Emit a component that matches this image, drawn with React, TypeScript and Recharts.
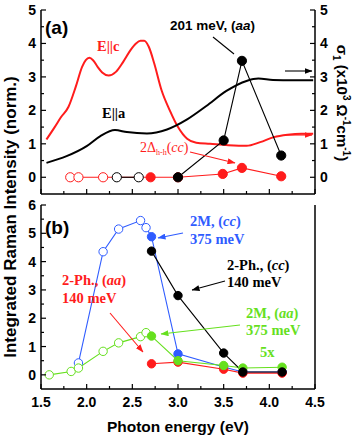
import { ComposedChart, Line, XAxis, YAxis } from "recharts";

const BLACK = "#000000";
const RED = "#ff1c1c";
const BLUE = "#2f5cff";
const GREEN = "#66e01e";
const SANS = "'Liberation Sans', Arial, sans-serif";
const SERIF = "'Liberation Serif', 'Times New Roman', serif";

const xTicks = [1.5, 1.75, 2, 2.25, 2.5, 2.75, 3, 3.25, 3.5, 3.75, 4, 4.25, 4.5];
const topYTicks = [0, 0.5, 1, 1.5, 2, 2.5, 3, 3.5, 4, 4.5, 5];
const bottomYTicks = [0, 0.5, 1, 1.5, 2, 2.5, 3, 3.5, 4, 4.5, 5, 5.5, 6];

// (a) optical conductivity, right axis (x10^3 1/(Ohm cm))
const sigmaCEnergy = [1.56, 1.65, 1.72, 1.8, 1.88, 1.95, 1.99, 2.03, 2.07, 2.12, 2.17, 2.24, 2.32, 2.4, 2.48, 2.54, 2.59, 2.63, 2.68, 2.74, 2.82, 2.91, 3.0, 3.1, 3.2, 3.35, 3.55, 3.75, 3.9, 4.05, 4.2, 4.35, 4.48];
const sigmaC = [1.13, 1.5, 1.8, 2.1, 2.7, 3.3, 3.5, 3.57, 3.5, 3.3, 3.13, 3.04, 3.15, 3.45, 3.8, 4.0, 4.08, 4.08, 3.9, 3.4, 2.6, 2.0, 1.5, 1.15, 1.03, 1.0, 0.96, 0.94, 1.05, 1.2, 1.27, 1.3, 1.3];
const sigmaAEnergy = [1.56, 1.78, 2.0, 2.15, 2.31, 2.44, 2.66, 2.88, 3.1, 3.31, 3.53, 3.75, 3.88, 4.04, 4.26, 4.48];
const sigmaA = [0.43, 0.63, 0.93, 1.23, 1.41, 1.35, 1.31, 1.43, 1.73, 2.13, 2.58, 2.88, 2.95, 2.91, 2.9, 2.9];

// (a) Raman intensities
const gapCcEnergy = [1.82, 1.91, 2.18, 2.33, 2.57, 2.7, 3.0, 3.49, 3.7, 4.13];
const gapCc = [0, 0, 0, 0, 0, 0, 0, 0.1, 0.28, 0.03];
const gapCcMarks = ["open", "open", "open", "none", "none", "filled", "filled", "filled", "filled", "filled"];
const aaLowEnergy = [2.33, 2.57];
const aaLow = [0, 0];
const aa201Energy = [3.0, 3.5, 3.7, 4.13];
const aa201 = [0, 1.1, 3.48, 0.65];

// (b) integrated intensities
const twoMagCcEnergy = [1.91, 2.18, 2.35, 2.59, 2.65, 2.71, 3.0, 3.5, 3.71, 4.14];
const twoMagCc = [0.42, 4.35, 5.15, 5.45, 5.2, 4.88, 0.74, 0.28, 0.1, 0.1];
const twoMagCcMarks = ["open", "open", "open", "open", "open", "filled", "filled", "filled", "filled", "filled"];
const twoPhCcEnergy = [2.71, 3.0, 3.5, 3.71, 4.14];
const twoPhCc = [4.37, 2.8, 0.77, 0.1, 0.1];
const twoMagAaEnergy = [1.59, 1.83, 1.91, 2.18, 2.35, 2.59, 2.65, 2.71, 3.0, 3.5, 3.71, 4.14];
const twoMagAa = [0, 0.12, 0.24, 0.83, 1.13, 1.35, 1.49, 1.37, 0.5, 0.33, 0.24, 0.27];
const twoMagAaMarks = ["open", "open", "open", "open", "open", "open", "open", "filled", "filled", "filled", "filled", "filled"];
const twoPhAaEnergy = [2.71, 3.0, 3.5, 3.71, 4.14];
const twoPhAa = [0.39, 0.45, 0.2, 0.06, 0.06];

const toPoints = (xs: number[], ys: number[], marks?: string[]) =>
  xs.map((x, i) => ({ x, y: ys[i], m: marks ? marks[i] : "filled" }));

const dotFor = (color: string, r: number) => (p: any) => {
  const key = `${color}-${p.index}`;
  if (!p.payload || p.payload.m === "none") return <g key={key} />;
  const open = p.payload.m === "open";
  return (
    <circle key={key} cx={p.cx} cy={p.cy} r={r} fill={open ? "#ffffff" : color} stroke={color} strokeWidth={1} />
  );
};

function AxisTick(props: any) {
  const { x, y, payload, orientation, majorStep, showLabel, digits } = props;
  const v = payload.value as number;
  const major = Math.abs(v / majorStep - Math.round(v / majorStep)) < 1e-6;
  const len = major ? 5 : 3;
  const text = digits ? v.toFixed(digits) : String(v);
  const font = { fontFamily: SANS, fontWeight: 700, fontSize: 14, fill: BLACK };
  if (orientation === "left") {
    return (
      <g>
        <line x1={x} x2={x + len} y1={y} y2={y} stroke={BLACK} strokeWidth={1.2} />
        {showLabel && major ? <text x={x - 5} y={y} dy="0.36em" textAnchor="end" {...font}>{text}</text> : null}
      </g>
    );
  }
  if (orientation === "right") {
    return (
      <g>
        <line x1={x} x2={x - len} y1={y} y2={y} stroke={BLACK} strokeWidth={1.2} />
        {showLabel && major ? <text x={x + 5} y={y} dy="0.36em" textAnchor="start" {...font}>{text}</text> : null}
      </g>
    );
  }
  if (orientation === "top") {
    return <line x1={x} x2={x} y1={y} y2={y + len} stroke={BLACK} strokeWidth={1.2} />;
  }
  return (
    <g>
      <line x1={x} x2={x} y1={y} y2={y - len} stroke={BLACK} strokeWidth={1.2} />
      {showLabel && major ? <text x={x} y={y + 17.5} textAnchor="middle" {...font}>{text}</text> : null}
    </g>
  );
}

const axisLine = { stroke: BLACK, strokeWidth: 1.5 };

function PanelAxes({ yTicks, yDomain, leftLabels, rightLabels, bottomLabels, bottomHeight }: any) {
  return [
    <XAxis key="xb" xAxisId="b" dataKey="x" type="number" domain={[1.5, 4.5]} ticks={xTicks} interval={0}
      orientation="bottom" height={bottomHeight} axisLine={axisLine} tickLine={false} tickSize={0} tickMargin={0}
      tick={<AxisTick majorStep={0.5} showLabel={bottomLabels} digits={1} />}
      label={bottomLabels ? { value: "Photon energy (eV)", position: "insideBottom", offset: 5, fill: BLACK, fontSize: 15.5, fontWeight: 700, fontFamily: SANS } : undefined} />,
    <XAxis key="xt" xAxisId="t" dataKey="x" type="number" domain={[1.5, 4.5]} ticks={xTicks} interval={0}
      orientation="top" height={0} axisLine={axisLine} tickLine={false} tickSize={0} tickMargin={0}
      tick={<AxisTick majorStep={0.5} showLabel={false} />} />,
    <YAxis key="yl" yAxisId="l" type="number" domain={yDomain} ticks={yTicks} interval={0} width={41}
      orientation="left" axisLine={axisLine} tickLine={false} tickSize={0} tickMargin={0}
      tick={<AxisTick majorStep={1} showLabel={leftLabels} />} />,
    <YAxis key="yr" yAxisId="r" type="number" domain={yDomain} ticks={yTicks} interval={0} width={39}
      orientation="right" axisLine={axisLine} tickLine={false} tickSize={0} tickMargin={0}
      tick={<AxisTick majorStep={1} showLabel={rightLabels} />} />,
  ];
}

function RamanLine({ data, color, xAxisId = "b", yAxisId = "l", r = 4.6 }: any) {
  return (
    <Line xAxisId={xAxisId} yAxisId={yAxisId} data={data} dataKey="y" type="linear" stroke={color}
      strokeWidth={1.1} dot={dotFor(color, r)} activeDot={false} isAnimationActive={false} />
  );
}

function Arrow({ x1, y1, x2, y2, color }: any) {
  const id = color === RED ? "ar" : color === BLUE ? "ab" : color === GREEN ? "ag" : "ak";
  return <line x1={x1} y1={y1} x2={x2} y2={y2} stroke={color} strokeWidth={1.1} markerEnd={`url(#${id})`} />;
}

function Overlay() {
  const serifBold = { fontFamily: SERIF, fontWeight: 700, fontSize: 14.5 };
  return (
    <svg width={354} height={437} style={{ position: "absolute", left: 0, top: 0, pointerEvents: "none" }}>
      <defs>
        {[["ar", RED], ["ab", BLUE], ["ag", GREEN], ["ak", BLACK]].map(([id, c]) => (
          <marker key={id} id={id} markerWidth={8} markerHeight={6} refX={7.5} refY={3} orient="auto" markerUnits="userSpaceOnUse">
            <path d="M0,0 L8,3 L0,6 z" fill={c} />
          </marker>
        ))}
      </defs>
      <text x={16} y={217} transform="rotate(-90 16 217)" textAnchor="middle" fontFamily={SANS} fontWeight={700} fontSize={17} fill={BLACK}>
        Integrated Raman Intensity (norm.)
      </text>
      <text x={337} y={103} transform="rotate(90 337 103)" textAnchor="middle" fontFamily={SANS} fontWeight={700} fontSize={15} fill={BLACK}>
        <tspan>σ</tspan>
        <tspan dy={4} fontSize={10}>1</tspan>
        <tspan dy={-4}> (x10</tspan>
        <tspan dy={-6} fontSize={10}>3</tspan>
        <tspan dy={6}> Ω</tspan>
        <tspan dy={-6} fontSize={10}>-1</tspan>
        <tspan dy={6}>cm</tspan>
        <tspan dy={-6} fontSize={10}>-1</tspan>
        <tspan dy={6}>)</tspan>
      </text>

      {/* panel (a) */}
      <text x={45} y={34} fontFamily={SANS} fontWeight={700} fontSize={19} fill={BLACK}>(a)</text>
      <text x={170} y={29.5} fontFamily={SANS} fontWeight={700} fontSize={13.5} fill={BLACK}>
        201 meV, (<tspan fontStyle="italic">aa</tspan>)
      </text>
      <line x1={213} y1={37} x2={234} y2={54} stroke={BLACK} strokeWidth={1.1} />
      <text x={97} y={51} {...serifBold} fill={RED}>E||c</text>
      <text x={102} y={118} {...serifBold} fill={BLACK}>E||a</text>
      <text x={140} y={152} fontFamily={SERIF} fontSize={14} fill={RED}>
        2Δ<tspan dy={3} fontSize={8}>h-h</tspan><tspan dy={-3}>(</tspan><tspan fontStyle="italic">cc</tspan>)
      </text>
      <Arrow x1={190} y1={152} x2={235} y2={163} color={RED} />
      <Arrow x1={285} y1={71} x2={312} y2={71} color={BLACK} />
      <Arrow x1={285} y1={135} x2={312} y2={135} color={RED} />

      {/* panel (b) */}
      <text x={45} y={234} fontFamily={SANS} fontWeight={700} fontSize={19} fill={BLACK}>(b)</text>
      <text x={190} y={226} {...serifBold} fill={BLUE}>2M, (<tspan fontStyle="italic">cc</tspan>)</text>
      <text x={190} y={243.5} {...serifBold} fill={BLUE}>375 meV</text>
      <Arrow x1={183} y1={233} x2={158} y2={238} color={BLUE} />
      <text x={227} y={270} {...serifBold} fill={BLACK}>2-Ph., (<tspan fontStyle="italic">cc</tspan>)</text>
      <text x={227} y={287} {...serifBold} fill={BLACK}>140 meV</text>
      <Arrow x1={225} y1={281} x2={192} y2={290} color={BLACK} />
      <text x={62} y={285} {...serifBold} fill={RED}>2-Ph., (<tspan fontStyle="italic">aa</tspan>)</text>
      <text x={62} y={303} {...serifBold} fill={RED}>140 meV</text>
      <Arrow x1={110} y1={313} x2={143} y2={352} color={RED} />
      <text x={246} y={318} {...serifBold} fill={GREEN}>2M, (<tspan fontStyle="italic">aa</tspan>)</text>
      <text x={246} y={335} {...serifBold} fill={GREEN}>375 meV</text>
      <Arrow x1={240} y1={325} x2={161} y2={334} color={GREEN} />
      <text x={260} y={357} {...serifBold} fill={GREEN}>5x</text>
    </svg>
  );
}

export default function App() {
  return (
    <div style={{ position: "absolute", left: 0, top: 0, width: 354, height: 437, background: "#ffffff" }}>
      <div style={{ position: "absolute", left: 0, top: 0 }}>
        <ComposedChart width={354} height={200} margin={{ top: 10, right: 0, bottom: 0, left: 0 }}>
          {PanelAxes({ yTicks: topYTicks, yDomain: [-0.5, 5], leftLabels: true, rightLabels: true, bottomLabels: false, bottomHeight: 6 })}
          <Line xAxisId="t" yAxisId="r" data={toPoints(sigmaCEnergy, sigmaC)} dataKey="y" type="monotone" stroke={RED}
            strokeWidth={2} dot={false} activeDot={false} isAnimationActive={false} />
          <Line xAxisId="t" yAxisId="r" data={toPoints(sigmaAEnergy, sigmaA)} dataKey="y" type="monotone" stroke={BLACK}
            strokeWidth={2} dot={false} activeDot={false} isAnimationActive={false} />
          {RamanLine({ data: toPoints(gapCcEnergy, gapCc, gapCcMarks), color: RED })}
          {RamanLine({ data: toPoints(aaLowEnergy, aaLow, ["open", "open"]), color: BLACK })}
          {RamanLine({ data: toPoints(aa201Energy, aa201), color: BLACK })}
        </ComposedChart>
      </div>
      <div style={{ position: "absolute", left: 0, top: 195 }}>
        <ComposedChart width={354} height={242} margin={{ top: 10, right: 0, bottom: 0, left: 0 }}>
          {PanelAxes({ yTicks: bottomYTicks, yDomain: [-0.5, 6], leftLabels: true, rightLabels: false, bottomLabels: true, bottomHeight: 48 })}
          {RamanLine({ data: toPoints(twoMagCcEnergy, twoMagCc, twoMagCcMarks), color: BLUE, r: 4.2 })}
          {RamanLine({ data: toPoints(twoPhAaEnergy, twoPhAa), color: RED, r: 4.2 })}
          {RamanLine({ data: toPoints(twoMagAaEnergy, twoMagAa, twoMagAaMarks), color: GREEN, r: 4.2 })}
          {RamanLine({ data: toPoints(twoPhCcEnergy, twoPhCc), color: BLACK, r: 4.2 })}
        </ComposedChart>
      </div>
      <Overlay />
    </div>
  );
}
